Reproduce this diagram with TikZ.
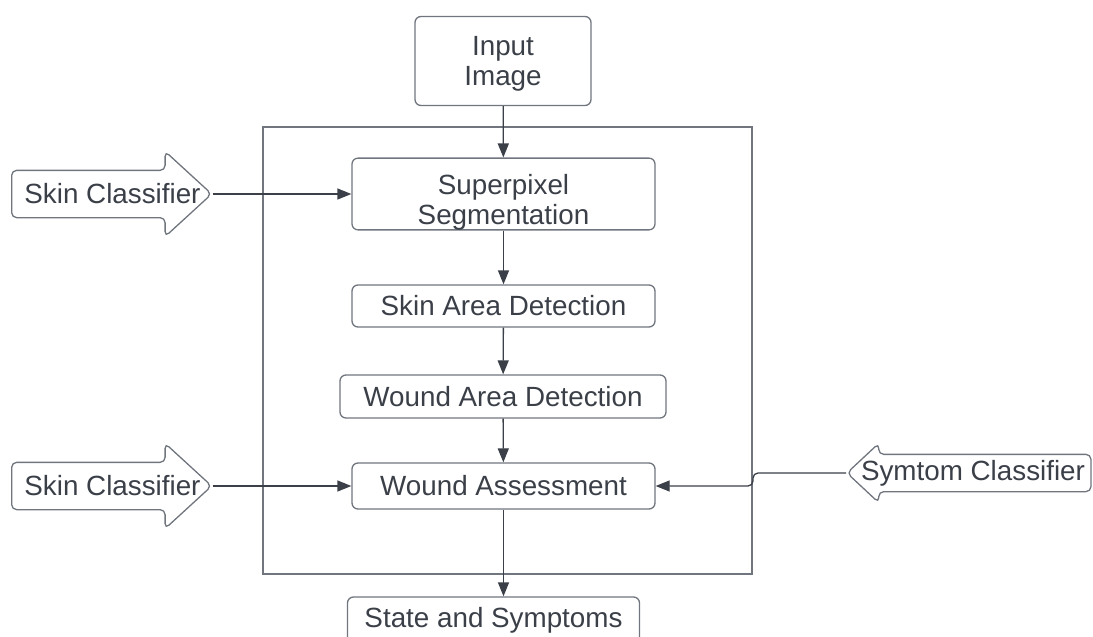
\documentclass[tikz,border=0pt]{standalone}
\usepackage{fontspec}
\setmainfont{Liberation Sans}
\usepackage{xcolor}
\definecolor{inkgray}{RGB}{58, 63, 72}
\definecolor{edgegray}{RGB}{112, 117, 126}
\usepackage{tikz}
\usetikzlibrary{arrows.meta,shapes.arrows,positioning,calc}

\begin{document}
\begin{tikzpicture}[x = 1pt, y = -1pt,
  box/.style = {draw = edgegray, line width = 1.3pt, rounded corners = 6pt, align = center, text = inkgray, font = \fontsize{27.8}{30}\selectfont, inner sep = 0pt},
  conn/.style = {draw = inkgray, line width = 1.3pt, -{Triangle[length = 14pt, width = 11pt]}},
  inarrow/.style = {single arrow, draw = edgegray, line width = 1.3pt, rounded corners = 5pt, inner xsep = 0pt},
  inlabel/.style = {text = inkgray, font = \fontsize{27.8}{30}\selectfont, inner sep = 0pt}]
\useasboundingbox (0,0) rectangle (1093,637);
\clip (0,0) rectangle (1093,637);
% main column
\node[box, minimum width = 176, minimum height = 89] (input) at (503,61) {\rule{0pt}{24pt}Input\\Image};
\node[draw = edgegray, line width = 1.3pt, minimum width = 489, minimum height = 447] (frame) at (507.5,350.5) {};
\node[box, minimum width = 303, minimum height = 68] (superpixel) at (503.5,194) {\rule{0pt}{36pt}Superpixel\\Segmentation};
\node[box, minimum width = 303, minimum height = 42] (skinarea) at (503.5,306) {Skin Area Detection};
\node[box, minimum width = 326, minimum height = 43] (woundarea) at (503,396.5) {Wound Area Detection};
\node[box, minimum width = 303, minimum height = 46] (assess) at (503.5,486) {Wound Assessment};
\node[box, minimum width = 292, minimum height = 46] (state) at (493.5,620) {State and Symptoms};
% side inputs
\node[inarrow, anchor = tail, minimum height = 200, inner ysep = 23pt, single arrow head extend = 19pt, single arrow tip angle = 85] (skinA) at (11,194) {};
\node[inlabel] (skinAtext) at (112.5,194) {Skin Classifier};
\node[inarrow, anchor = tail, minimum height = 200, inner ysep = 23pt, single arrow head extend = 19pt, single arrow tip angle = 85] (skinB) at (11,486) {};
\node[inlabel] (skinBtext) at (112.5,486) {Skin Classifier};
\node[inarrow, anchor = tip, shape border rotate = 180, minimum height = 244, inner ysep = 18pt, single arrow head extend = 11pt, single arrow tip angle = 86] (symptom) at (846,473) {};
\node[inlabel] (symptomtext) at (973,473) {Symtom Classifier};
% connectors
\draw[conn] (input) -- (superpixel);
\draw[conn] (superpixel) -- (skinarea);
\draw[conn] (skinarea) -- (woundarea);
\draw[conn] (woundarea) -- (assess);
\draw[conn] (assess.south) -- (assess.south |- state.north);
\draw[conn] (skinA.tip) -- (superpixel.west);
\draw[conn] (skinB.tip) -- (assess.west);
\draw[conn, rounded corners = 5pt] (symptom.tip) -- ++(-93,0) |- (assess.east);
\end{tikzpicture}
\end{document}
